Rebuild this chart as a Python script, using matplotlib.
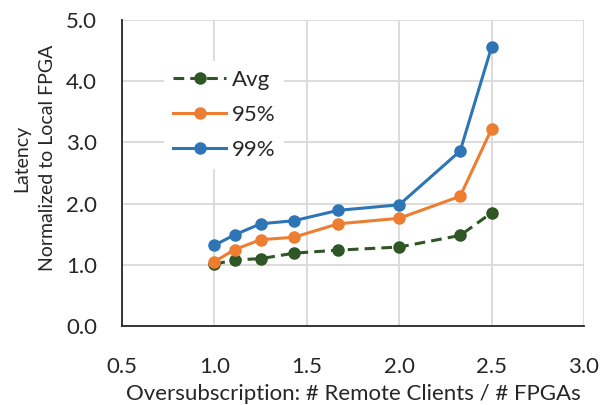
import matplotlib
matplotlib.use("Agg")
import matplotlib.pyplot as plt

# oversubscription ratio (remote clients per FPGA)
ratio = [1.0, 1.11, 1.25, 1.43, 1.67, 2.0, 2.33, 2.5]
lat_avg = [1.01, 1.08, 1.10, 1.19, 1.24, 1.29, 1.48, 1.85]
lat_p95 = [1.05, 1.25, 1.41, 1.45, 1.67, 1.76, 2.12, 3.22]
lat_p99 = [1.32, 1.49, 1.67, 1.72, 1.89, 1.98, 2.86, 4.56]

plt.rcParams['font.family'] = ['Lato', 'DejaVu Sans']

fig = plt.figure(figsize=(6.03, 4.05), dpi=100)
ax = fig.add_axes([122/603, 1 - 326/405, (584 - 122)/603, (326 - 20)/405])

ax.plot(ratio, lat_avg, color='#2f5625', lw=2.2, ls=(0, (3.5, 2)), marker='o', ms=8, label='Avg', zorder=3)
ax.plot(ratio, lat_p95, color='#ed7d31', lw=2.2, marker='o', ms=8, label='95%', zorder=4)
ax.plot(ratio, lat_p99, color='#2e75b6', lw=2.2, marker='o', ms=8, label='99%', zorder=5)

ax.set_xlim(0.5, 3.0)
ax.set_ylim(0, 5.0)
ax.set_xticks([0.5, 1.0, 1.5, 2.0, 2.5, 3.0])
ax.set_yticks([0, 1, 2, 3, 4, 5])
ax.set_xticklabels(['0.5', '1.0', '1.5', '2.0', '2.5', '3.0'])
ax.set_yticklabels(['0.0', '1.0', '2.0', '3.0', '4.0', '5.0'])
ax.tick_params(length=0, labelsize=16, colors='#262626')
ax.tick_params(axis='x', pad=22)
ax.tick_params(axis='y', pad=18)
ax.grid(True, color='#d9d9d9', lw=1.3)
ax.set_axisbelow(True)
for s in ['top', 'right']:
    ax.spines[s].set_visible(False)
for s in ['left', 'bottom']:
    ax.spines[s].set_color('#262626')
    ax.spines[s].set_linewidth(1.3)

ax.set_xlabel('Oversubscription: # Remote Clients / # FPGAs', fontsize=16, color='#262626')
ax.xaxis.set_label_coords(0.5, -0.19)
ax.set_ylabel('Latency\nNormalized to Local FPGA', fontsize=14, color='#262626', linespacing=1.65)
ax.yaxis.set_label_coords(-0.143, 0.549)

leg = ax.legend(loc='upper left', bbox_to_anchor=(0.091, 0.866), borderaxespad=0, frameon=True, fontsize=16,
                handlelength=2.4, handletextpad=0.25, labelspacing=0.68, borderpad=0.4)
leg.get_frame().set_facecolor('white')
leg.get_frame().set_edgecolor('none')
leg.get_frame().set_alpha(1)
leg.get_frame().set_boxstyle('square', pad=0)
for t in leg.get_texts():
    t.set_color('#262626')

fig.savefig('out.png', dpi=100)
